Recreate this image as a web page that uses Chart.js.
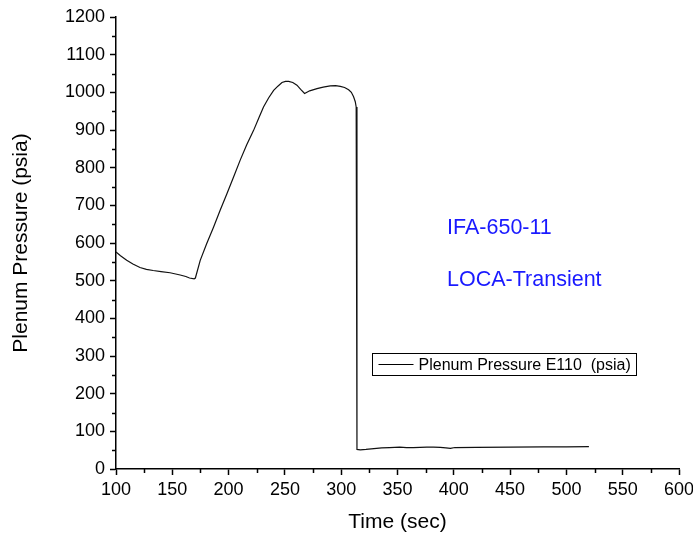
<!DOCTYPE html>
<html lang="en">
<head>
    <meta charset="UTF-8">
    <title>Plenum Pressure LOCA-Transient</title>
    <script src="https://cdn.jsdelivr.net/npm/chart.js"></script>
    <style>
        body { margin: 0; background: #fff; }
        #wrap { width: 693px; height: 536px; }
    </style>
</head>
<body>
    <div id="wrap"><canvas id="pressureChart" width="693" height="536"></canvas></div>

    <script>
        // data
        const timeSec = [100, 104, 109.5, 115, 121.3, 127, 133, 140, 148, 157, 162, 165.3, 169.4, 170.5, 174.8, 180.5, 186.6, 192.5, 198.5, 204.5, 210.3, 216, 222.2, 227, 231, 235.5, 240, 244, 247.4, 250.5, 253.3, 257, 260.7, 264, 267.5, 272, 278.5, 284, 290.3, 295, 299.2, 303, 306.6, 309, 311, 312.5, 313.3, 314, 317, 322, 329, 336, 343, 352, 358, 364, 370, 376, 382, 388, 393, 397, 401, 420, 450, 480, 500, 520];
        const pressurePsia = [576, 566, 554, 544, 535, 530, 527, 524, 521, 515, 511, 507, 505, 507, 554, 598, 642, 687, 731, 776, 820, 860, 899, 933, 961, 985, 1005, 1017, 1026, 1029, 1029, 1026, 1019, 1008, 997, 1004, 1010, 1014, 1017, 1018, 1016, 1013, 1007, 1000, 988, 975, 961, 52, 51, 52, 54, 56, 57, 58, 57, 57, 57.5, 58, 58, 57.5, 56, 55, 57, 57.5, 58, 58.5, 59, 59.5];
        const seriesLabel = 'Plenum Pressure E110  (psia)';
        const noteLines = ['IFA-650-11', 'LOCA-Transient'];
        const noteX = 394;
        const noteY = [639, 501];

        const points = timeSec.map((t, i) => ({ x: t, y: pressurePsia[i] }));

        // minor ticks, notes and boxed legend
        const extras = {
            id: 'extras',
            afterDraw(chart) {
                const { ctx, chartArea: a, scales: { x, y } } = chart;
                ctx.save();
                ctx.strokeStyle = '#000';
                ctx.lineWidth = 1.5;
                ctx.beginPath();
                for (let v = 50; v < 1200; v += 100) {
                    const py = Math.round(y.getPixelForValue(v)) + 0.5;
                    ctx.moveTo(a.left - 4, py); ctx.lineTo(a.left, py);
                }
                for (let v = 125; v < 600; v += 50) {
                    const px = Math.round(x.getPixelForValue(v)) + 0.5;
                    ctx.moveTo(px, a.bottom); ctx.lineTo(px, a.bottom + 4);
                }
                ctx.stroke();

                ctx.fillStyle = '#1a1aff';
                ctx.font = '21.5px "Liberation Sans", Arial, sans-serif';
                ctx.textBaseline = 'middle';
                ctx.textAlign = 'left';
                noteLines.forEach((s, i) => {
                    ctx.fillText(s, x.getPixelForValue(noteX), y.getPixelForValue(noteY[i]));
                });

                // legend box
                const bx = 372.5, by = 353.5, bw = 264, bh = 22;
                ctx.lineWidth = 1;
                ctx.strokeStyle = '#000';
                ctx.strokeRect(bx, by, bw, bh);
                ctx.beginPath();
                ctx.moveTo(bx + 6, by + bh / 2); ctx.lineTo(bx + 41, by + bh / 2);
                ctx.stroke();
                ctx.fillStyle = '#000';
                ctx.font = '16px "Liberation Sans", Arial, sans-serif';
                ctx.fillText(seriesLabel, bx + 46, by + bh / 2 + 1);
                ctx.restore();
            }
        };

        const fontFamily = '"Liberation Sans", Arial, sans-serif';

        new Chart(document.getElementById('pressureChart'), {
            type: 'line',
            data: {
                datasets: [{
                    label: seriesLabel,
                    data: points,
                    borderColor: '#111',
                    borderWidth: 1.2,
                    pointRadius: 0,
                    tension: 0,
                    fill: false
                }]
            },
            options: {
                responsive: false,
                animation: false,
                layout: { padding: { top: 17, right: 14, left: 0, bottom: 0 } },
                plugins: { legend: { display: false }, tooltip: { enabled: false } },
                scales: {
                    x: {
                        type: 'linear',
                        min: 100, max: 600,
                        border: { display: true, color: '#000', width: 1.5 },
                        grid: { drawOnChartArea: false, tickLength: 6, tickColor: '#000', tickWidth: 1.5 },
                        ticks: { stepSize: 50, color: '#000', padding: 4, maxRotation: 0, font: { family: fontFamily, size: 18 }, callback: v => String(v) },
                        title: { display: true, text: 'Time (sec)', color: '#000', padding: { top: 0, bottom: 1 }, font: { family: fontFamily, size: 21 } },
                        afterFit(s) { s.height = 67; s.paddingRight = 0; s.paddingLeft = 0; }
                    },
                    y: {
                        min: 0, max: 1200,
                        border: { display: true, color: '#000', width: 1.5 },
                        grid: { drawOnChartArea: false, tickLength: 6, tickColor: '#000', tickWidth: 1.5 },
                        ticks: { stepSize: 100, color: '#000', padding: 5, font: { family: fontFamily, size: 18 }, callback: v => String(v) },
                        title: { display: true, text: 'Plenum Pressure (psia)', color: '#000', padding: { top: 9, bottom: 0 }, font: { family: fontFamily, size: 21 } },
                        afterFit(s) { s.width = 116; }
                    }
                }
            },
            plugins: [extras]
        });
    </script>
</body>
</html>
